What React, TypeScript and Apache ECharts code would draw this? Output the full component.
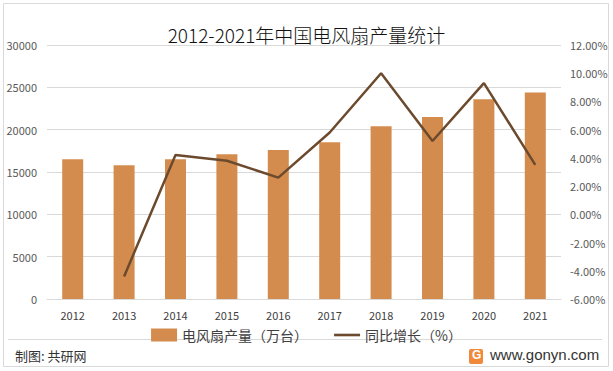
import React, { useEffect, useRef } from "react";
import * as echarts from "echarts";

const categories = ["2012", "2013", "2014", "2015", "2016", "2017", "2018", "2019", "2020", "2021"];
const outputValues = [16500, 15800, 16500, 17100, 17600, 18500, 20400, 21500, 23600, 24400];
const growthValues: (number | null)[] = [null, -4.4, 4.2, 3.8, 2.6, 5.8, 10.0, 5.2, 9.3, 3.5];
const titleText = "2012-2021年中国电风扇产量统计";
const barName = "电风扇产量（万台）";
const lineName = "同比增长（%）";
const sourceText = "制图: 共研网";
const siteText = "www.gonyn.com";

export default function App() {
  const ref = useRef<HTMLDivElement>(null);
  useEffect(() => {
    if (!ref.current) return;
    const chart = echarts.init(ref.current, undefined, { renderer: "svg" });
    const font = "'Noto Sans CJK SC', sans-serif";
    chart.setOption({
      animation: false,
      backgroundColor: "#ffffff",
      title: {
        text: titleText,
        left: "center",
        top: 20,
        textStyle: { fontSize: 19, fontWeight: 300, color: "#111", fontFamily: font },
      },
      grid: { left: 47, right: 52, top: 45, bottom: 72 },
      legend: {
        top: 323,
        left: "center",
        itemGap: 26,
        itemWidth: 26,
        itemHeight: 13,
        textStyle: { fontSize: 14, color: "#404040", fontFamily: font },
        data: [
          { name: barName, icon: "rect" },
          { name: lineName, icon: "path://M0,0 L30,0 L30,3 L0,3 Z" },
        ],
      },
      xAxis: {
        type: "category",
        data: categories,
        axisTick: { show: false },
        axisLine: { lineStyle: { color: "#D9D9D9" } },
        axisLabel: { color: "#404040", fontSize: 11, margin: 10, fontFamily: font },
      },
      yAxis: [
        {
          type: "value",
          min: 0,
          max: 30000,
          interval: 5000,
          axisLine: { show: false },
          axisTick: { show: false },
          axisLabel: {
            color: "#595959",
            fontSize: 11,
            margin: 10,
            fontFamily: font,
            formatter: (v: number) => String(v),
          },
          splitLine: { lineStyle: { color: "#D9D9D9" } },
        },
        {
          type: "value",
          min: -6,
          max: 12,
          interval: 2,
          axisLine: { show: false },
          axisTick: { show: false },
          axisLabel: {
            color: "#595959",
            fontSize: 11,
            margin: 9,
            fontFamily: font,
            formatter: (v: number) => v.toFixed(2) + "%",
          },
          splitLine: { show: false },
        },
      ],
      series: [
        {
          name: barName,
          type: "bar",
          data: outputValues,
          barWidth: 21,
          itemStyle: { color: "#D48C4E" },
        },
        {
          name: lineName,
          type: "line",
          yAxisIndex: 1,
          data: growthValues,
          symbol: "none",
          lineStyle: { color: "#6B4A2E", width: 2.5 },
          itemStyle: { color: "#6B4A2E" },
        },
      ],
      graphic: [
        {
          type: "rect",
          shape: { x: 3.5, y: 3.5, width: 605, height: 363 },
          style: { fill: "none", stroke: "#D9D9D9", lineWidth: 1 },
          silent: true,
        },
        {
          type: "line",
          shape: { x1: 8, y1: 339.5, x2: 602, y2: 339.5 },
          style: { stroke: "#D9D9D9", lineWidth: 1 },
        },
        {
          type: "text",
          x: 15,
          y: 349,
          style: { text: sourceText, fontSize: 13, fill: "#333", fontFamily: font },
        },
        {
          type: "rect",
          shape: { x: 469, y: 349, width: 14, height: 15, r: 2 },
          style: { fill: "#F08A3A" },
        },
        {
          type: "text",
          x: 472,
          y: 349,
          style: { text: "G", fontSize: 12, fontWeight: "bold", fill: "#fff", fontFamily: "Arial, sans-serif" },
        },
        {
          type: "text",
          x: 490,
          y: 347,
          style: { text: siteText, fontSize: 15, fill: "#333", fontFamily: "Arial, 'Liberation Sans', sans-serif" },
        },
      ],
    });
    return () => chart.dispose();
  }, []);
  return <div ref={ref} style={{ position: "fixed", left: 0, top: 0, width: 613, height: 371 }} />;
}
